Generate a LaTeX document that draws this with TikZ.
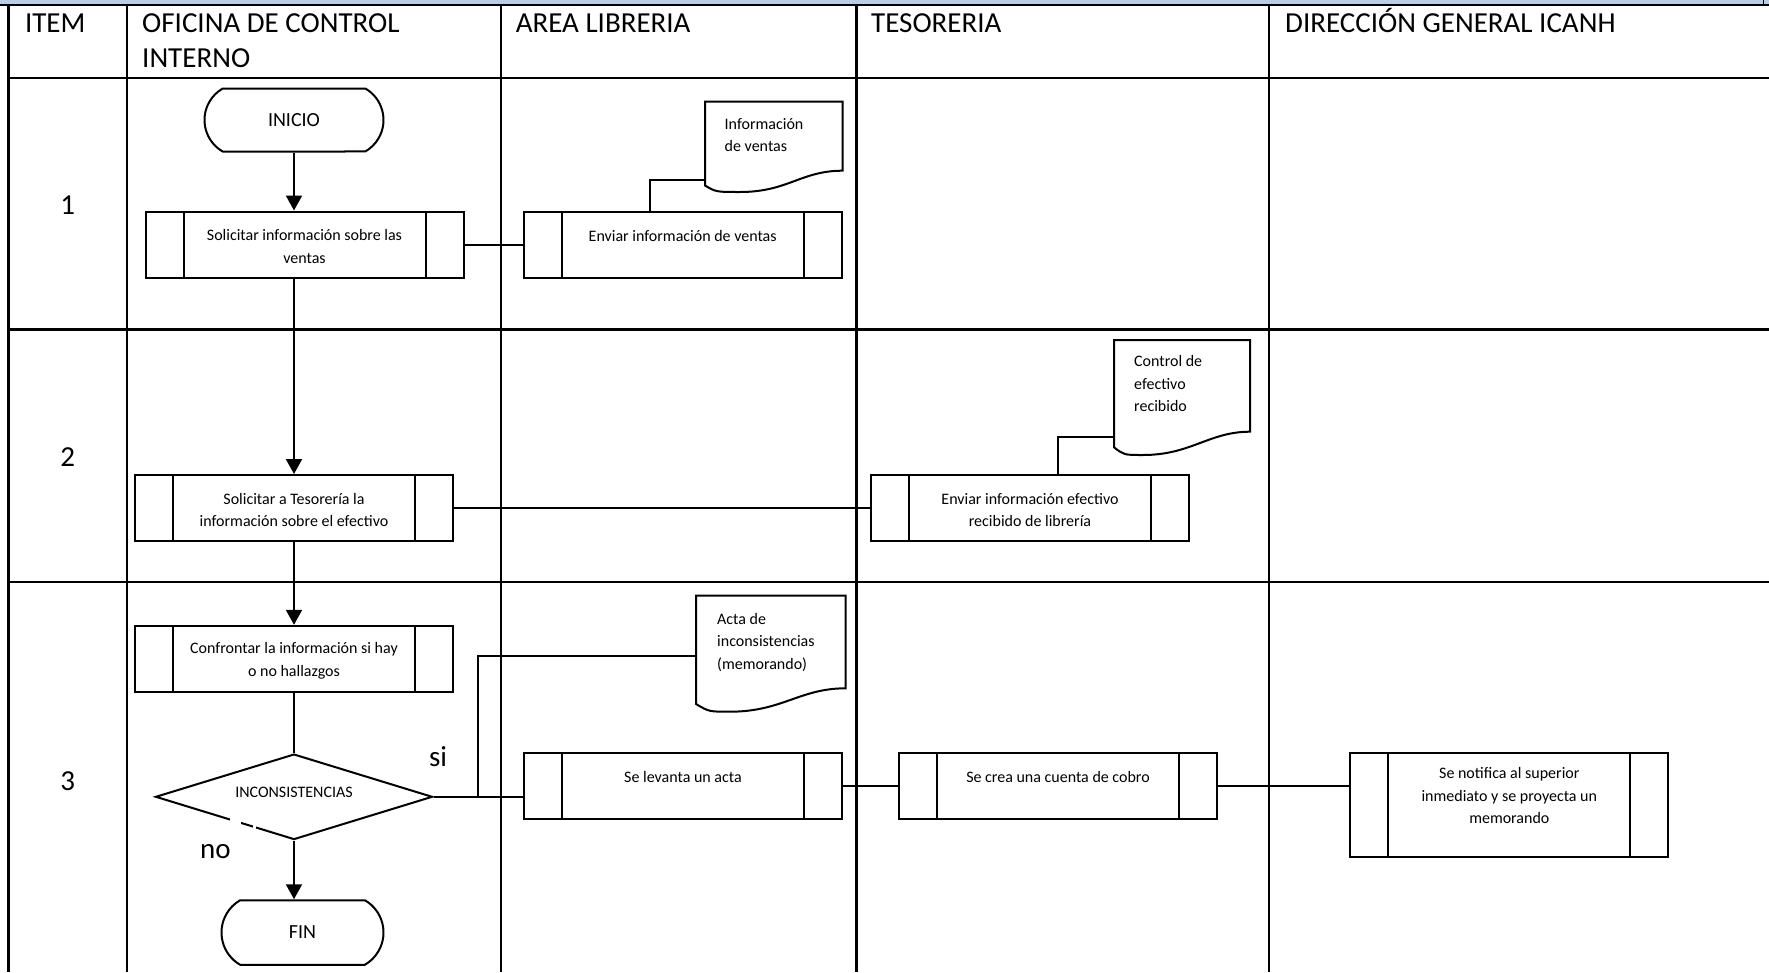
\documentclass[tikz,border=0pt]{standalone}
\usepackage{fontspec}
\setmainfont{Carlito}
\usetikzlibrary{arrows.meta,shapes.misc,shapes.geometric}
\definecolor{hdrblue}{RGB}{185,205,229}
\newcommand\rs{\rule{0pt}{15pt}}
\newcommand\hs{\rule{0pt}{24pt}}
\begin{document}
\begin{tikzpicture}[x=1pt,y=-1pt,
  tbl/.style={line width=2.4pt, draw=black},
  shp/.style={draw=black, line width=2pt, fill=white},
  proc/.style={shp, minimum width=318pt, minimum height=66pt, inner sep=0pt, align=center,
    font=\fontsize{16}{22.4}\selectfont,
    path picture={
      \draw[line width=2pt] ([xshift=38pt]path picture bounding box.north west) -- ([xshift=38pt]path picture bounding box.south west);
      \draw[line width=2pt] ([xshift=-38pt]path picture bounding box.north east) -- ([xshift=-38pt]path picture bounding box.south east);}},
  term/.style={shp, rounded rectangle, rounded rectangle arc length=120, inner sep=0pt, font=\fontsize{20}{24}\selectfont},
  dec/.style={shp, diamond, inner sep=0pt, shape aspect=3.24, minimum width=277pt, minimum height=85.5pt, font=\fontsize{16}{19}\selectfont},
  doctxt/.style={anchor=north west, inner sep=0pt, align=left, font=\fontsize{16}{22.5}\selectfont},
  hdr/.style={anchor=north west, inner sep=0pt, align=left, font=\fontsize{29}{35}\selectfont},
  big/.style={inner sep=0pt, font=\fontsize{29}{35}\selectfont},
  conn/.style={line width=2pt, draw=black},
  arr/.style={conn, -{Triangle[length=15pt,width=16pt]}}]
\useasboundingbox (0,0) rectangle (1769,972);
% table
\fill[hdrblue] (0,0) rectangle (1769,5);
\draw[tbl] (0,5) -- (1769,5);
\draw[line width=1pt] (1763,0) -- (1763,5);
\draw[tbl] (8.3,5) -- (8.3,972);
\foreach \cx in {127,501,856.5,1269} \draw[tbl] (\cx,5) -- (\cx,972);
\foreach \ry in {78,329.5,582} \draw[tbl] (8.3,\ry) -- (1769,\ry);
% header
\node[hdr] (hitem) at (24.8,8.5) {\hs ITEM};
\node[hdr] (hoci) at (142,8.5) {\hs OFICINA DE CONTROL\\INTERNO};
\node[hdr] (hlib) at (515.6,8.5) {\hs AREA LIBRERIA};
\node[hdr] (htes) at (871,8.5) {\hs TESORERIA};
\node[hdr] (hdir) at (1285,8.5) {\hs DIRECCIÓN GENERAL ICANH};
% row numbers
\node[big] (r1) at (67.7,205) {1};
\node[big] (r2) at (67.7,457) {2};
\node[big] (r3) at (67.7,781) {3};
% shapes
\node[term, minimum width=179pt, minimum height=63pt] (inicio) at (294,120) {INICIO};
\node[proc] (p1) at (304.5,244.5) {\rs Solicitar información sobre las\\ventas};
\node[proc] (p2) at (682.7,245) {\rs Enviar información de ventas\\\mbox{}};
\node[proc] (p3) at (294,508) {\rs Solicitar a Tesorería la\\información sobre el efectivo};
\node[proc] (p4) at (1030,508) {\rs Enviar información efectivo\\recibido de librería};
\node[proc] (p5) at (294,658.8) {\rs Confrontar la información si hay\\o no hallazgos};
\node[dec] (dia) at (294,796.8) {\raisebox{10pt}{INCONSISTENCIAS}};
\fill[white] (230,815) rectangle (241,828);
\fill[white] (253,823) rectangle (256,833);
\node[term, minimum width=162pt, minimum height=64.5pt] (fin) at (302.5,932.5) {FIN};
\node[proc] (p6) at (683,786.3) {\rs Se levanta un acta\\\mbox{}};
\node[proc] (p7) at (1058,786.3) {\rs Se crea una cuenta de cobro\\\mbox{}};
\node[proc, minimum height=104pt] (p8) at (1509.3,804.8) {\rs Se notifica al superior\\inmediato y se proyecta un\\memorando\\\mbox{}};
% documents
\draw[shp] (705,101.5) -- (842.5,101.5) -- (842.5,170.7) .. controls (801,170.7) and (788,192) .. (740,192) .. controls (716,192) .. (705,185.5) -- cycle;
\node[doctxt] (d1) at (724.5,114) {\rs Información\\de ventas};
\draw[shp] (1114,340) -- (1250,340) -- (1250,431.7) .. controls (1209,431.7) and (1191,455) .. (1143,455) .. controls (1124,455) .. (1114,447.3) -- cycle;
\node[doctxt] (d2) at (1134,351.7) {\rs Control de\\efectivo\\recibido};
\draw[shp] (696,595.5) -- (845.5,595.5) -- (845.5,688.3) .. controls (800,688.3) and (782,711.7) .. (730,711.7) .. controls (709,711.7) .. (696,704) -- cycle;
\node[doctxt] (d3) at (717,609) {\rs Acta de\\inconsistencias\\(memorando)};
\coordinate (d1in) at (705,180);
\coordinate (d2in) at (1114,437.3);
\coordinate (d3in) at (696,656);
% labels
\node[big] (si) at (438,757) {si};
\node[big] (no) at (215.4,851.7) {no};
% connectors
\draw[arr] (inicio.south) -- (inicio.south |- p1.north);
\draw[arr] (p3.north |- p1.south) -- (p3.north);
\draw[arr] (p3.south) -- (p5.north);
\draw[conn] (p5.south) -- (dia.north);
\draw[arr] (dia.south) -- (dia.south |- fin.north);
\draw[conn] (p1.east) -- (p1.east -| p2.west);
\draw[conn] ([xshift=-32.4pt]p2.north) |- (d1in);
\draw[conn] (p3.east) -- (p3.east -| p4.west);
\draw[conn] ([xshift=28pt]p4.north) |- (d2in);
\draw[conn] (dia.east) -- (dia.east -| p6.west);
\draw[conn] ([xshift=44.6pt]dia.east) |- (d3in);
\draw[conn] (p6.east) -- (p7.west);
\draw[conn] (p7.east) -- (p7.east -| p8.west);
\end{tikzpicture}
\end{document}
